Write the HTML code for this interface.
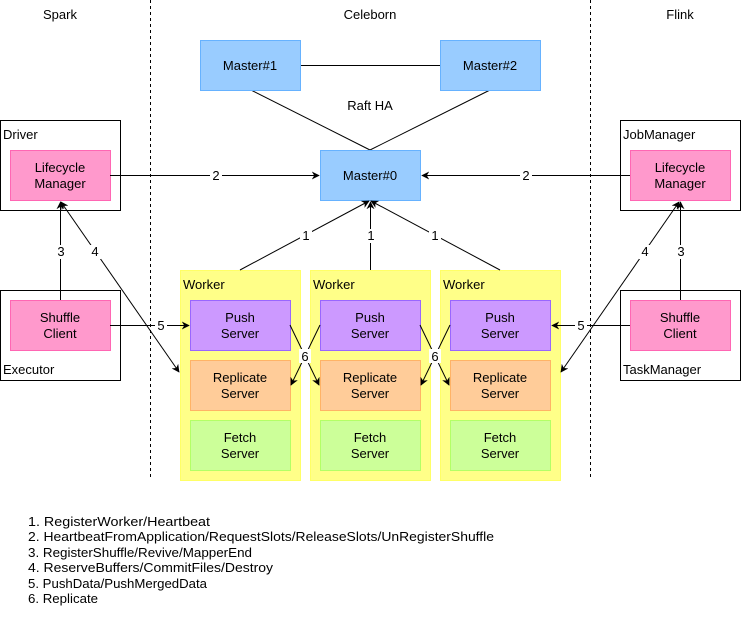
<!DOCTYPE html>
<html><head><meta charset="utf-8"><style>
html,body{margin:0;padding:0;background:#fff;}
svg{display:block;}
text{font-family:"Liberation Sans",sans-serif;font-size:13px;fill:#000;}
</style></head><body>
<svg width="741" height="621" viewBox="0 0 741 621" xmlns="http://www.w3.org/2000/svg">
<defs>
<marker id="a" viewBox="0 0 10 10" refX="9" refY="5" markerWidth="8" markerHeight="8" orient="auto-start-reverse" markerUnits="userSpaceOnUse">
<path d="M0,0 L10,5 L0,10 L3,5 z" fill="#000"/></marker>
</defs>
<line x1="150.5" y1="0" x2="150.5" y2="480" stroke="#000" stroke-dasharray="3,3"/>
<line x1="590.5" y1="0" x2="590.5" y2="480" stroke="#000" stroke-dasharray="3,3"/>
<g text-anchor="middle">
<text x="60" y="19">Spark</text>
<text x="370" y="19">Celeborn</text>
<text x="680" y="19">Flink</text>
</g>
<line x1="300" y1="65.5" x2="440" y2="65.5" stroke="#000"/>
<line x1="251" y1="90" x2="370" y2="150" stroke="#000"/>
<line x1="490" y1="90" x2="370" y2="150" stroke="#000"/>
<rect x="200.5" y="40.5" width="100" height="50" fill="#99CCFF" stroke="#66B2FF"/>
<rect x="440.5" y="40.5" width="100" height="50" fill="#99CCFF" stroke="#66B2FF"/>
<rect x="320.5" y="150.5" width="100" height="50" fill="#99CCFF" stroke="#66B2FF"/>
<g text-anchor="middle">
<text x="250" y="70">Master#1</text>
<text x="490" y="70">Master#2</text>
<text x="370" y="110">Raft HA</text>
<text x="370" y="180">Master#0</text>
</g>
<rect x="0.5" y="120.5" width="120" height="90" fill="#fff" stroke="#000"/>
<rect x="0.5" y="290.5" width="120" height="90" fill="#fff" stroke="#000"/>
<rect x="620.5" y="120.5" width="120" height="90" fill="#fff" stroke="#000"/>
<rect x="620.5" y="290.5" width="120" height="90" fill="#fff" stroke="#000"/>
<text x="3" y="139">Driver</text>
<text x="3" y="374">Executor</text>
<text x="623" y="139">JobManager</text>
<text x="623" y="374">TaskManager</text>
<rect x="10.5" y="150.5" width="100" height="50" fill="#FF99CC" stroke="#FF66B3"/>
<rect x="10.5" y="300.5" width="100" height="50" fill="#FF99CC" stroke="#FF66B3"/>
<rect x="630.5" y="150.5" width="100" height="50" fill="#FF99CC" stroke="#FF66B3"/>
<rect x="630.5" y="300.5" width="100" height="50" fill="#FF99CC" stroke="#FF66B3"/>
<g text-anchor="middle">
<text x="60" y="172">Lifecycle</text><text x="60" y="188">Manager</text>
<text x="60" y="322">Shuffle</text><text x="60" y="338">Client</text>
<text x="680" y="172">Lifecycle</text><text x="680" y="188">Manager</text>
<text x="680" y="322">Shuffle</text><text x="680" y="338">Client</text>
</g>
<g>
<rect x="180.5" y="270.5" width="120" height="210" fill="#FFFF88" stroke="#FFFF66"/>
<rect x="310.5" y="270.5" width="120" height="210" fill="#FFFF88" stroke="#FFFF66"/>
<rect x="440.5" y="270.5" width="120" height="210" fill="#FFFF88" stroke="#FFFF66"/>
<text x="183" y="289">Worker</text><text x="313" y="289">Worker</text><text x="443" y="289">Worker</text>
<rect x="190.5" y="300.5" width="100" height="50" fill="#CC99FF" stroke="#9966FF"/>
<rect x="320.5" y="300.5" width="100" height="50" fill="#CC99FF" stroke="#9966FF"/>
<rect x="450.5" y="300.5" width="100" height="50" fill="#CC99FF" stroke="#9966FF"/>
<rect x="190.5" y="360.5" width="100" height="50" fill="#FFCC99" stroke="#FFB366"/>
<rect x="320.5" y="360.5" width="100" height="50" fill="#FFCC99" stroke="#FFB366"/>
<rect x="450.5" y="360.5" width="100" height="50" fill="#FFCC99" stroke="#FFB366"/>
<rect x="190.5" y="420.5" width="100" height="50" fill="#CCFF99" stroke="#B3FF66"/>
<rect x="320.5" y="420.5" width="100" height="50" fill="#CCFF99" stroke="#B3FF66"/>
<rect x="450.5" y="420.5" width="100" height="50" fill="#CCFF99" stroke="#B3FF66"/>
</g>
<g text-anchor="middle">
<text x="240" y="322">Push</text><text x="240" y="338">Server</text>
<text x="370" y="322">Push</text><text x="370" y="338">Server</text>
<text x="500" y="322">Push</text><text x="500" y="338">Server</text>
<text x="240" y="382">Replicate</text><text x="240" y="398">Server</text>
<text x="370" y="382">Replicate</text><text x="370" y="398">Server</text>
<text x="500" y="382">Replicate</text><text x="500" y="398">Server</text>
<text x="240" y="442">Fetch</text><text x="240" y="458">Server</text>
<text x="370" y="442">Fetch</text><text x="370" y="458">Server</text>
<text x="500" y="442">Fetch</text><text x="500" y="458">Server</text>
</g>
<g stroke="#000" fill="none">
<line x1="110" y1="175.5" x2="319" y2="175.5" marker-end="url(#a)"/>
<line x1="630" y1="175.5" x2="422" y2="175.5" marker-end="url(#a)"/>
<line x1="60.5" y1="300" x2="60.5" y2="202" marker-end="url(#a)"/>
<line x1="680.5" y1="300" x2="680.5" y2="202" marker-end="url(#a)"/>
<line x1="61" y1="202" x2="179" y2="372" marker-start="url(#a)" marker-end="url(#a)"/>
<line x1="679" y1="202" x2="561" y2="372" marker-start="url(#a)" marker-end="url(#a)"/>
<line x1="110" y1="325.5" x2="189" y2="325.5" marker-end="url(#a)"/>
<line x1="630" y1="325.5" x2="552" y2="325.5" marker-end="url(#a)"/>
<line x1="240" y1="270" x2="369" y2="201" marker-end="url(#a)"/>
<line x1="370.5" y1="270" x2="370.5" y2="202" marker-end="url(#a)"/>
<line x1="500" y1="270" x2="371" y2="201" marker-end="url(#a)"/>
<line x1="290" y1="325" x2="319" y2="385" marker-end="url(#a)"/>
<line x1="320" y1="325" x2="291" y2="385" marker-end="url(#a)"/>
<line x1="420" y1="325" x2="449" y2="385" marker-end="url(#a)"/>
<line x1="450" y1="325" x2="421" y2="385" marker-end="url(#a)"/>
</g>
<g text-anchor="middle">
<rect x="210" y="168" width="12" height="14" fill="#fff"/><text x="216" y="180">2</text>
<rect x="520" y="168" width="12" height="14" fill="#fff"/><text x="526" y="180">2</text>
<rect x="54" y="245" width="12" height="14" fill="#fff"/><text x="61" y="256">3</text>
<rect x="674" y="245" width="12" height="14" fill="#fff"/><text x="681" y="256">3</text>
<rect x="89" y="245" width="12" height="14" fill="#fff"/><text x="95" y="256">4</text>
<rect x="639" y="245" width="12" height="14" fill="#fff"/><text x="645" y="256">4</text>
<rect x="155" y="318" width="12" height="14" fill="#fff"/><text x="161" y="330">5</text>
<rect x="575" y="318" width="12" height="14" fill="#fff"/><text x="581" y="330">5</text>
<rect x="300" y="229" width="12" height="14" fill="#fff"/><text x="306" y="240">1</text>
<rect x="365" y="229" width="12" height="14" fill="#fff"/><text x="371" y="240">1</text>
<rect x="429" y="229" width="12" height="14" fill="#fff"/><text x="435" y="240">1</text>
<rect x="299" y="349" width="12" height="14" fill="#fff"/><text x="305" y="361">6</text>
<rect x="429" y="349" width="12" height="14" fill="#fff"/><text x="435" y="361">6</text>
</g>
<g>
<text x="28" y="526" textLength="182" lengthAdjust="spacingAndGlyphs">1. RegisterWorker/Heartbeat</text>
<text x="28" y="541" textLength="466" lengthAdjust="spacingAndGlyphs">2. HeartbeatFromApplication/RequestSlots/ReleaseSlots/UnRegisterShuffle</text>
<text x="28" y="557" textLength="224" lengthAdjust="spacingAndGlyphs">3. RegisterShuffle/Revive/MapperEnd</text>
<text x="28" y="572" textLength="245" lengthAdjust="spacingAndGlyphs">4. ReserveBuffers/CommitFiles/Destroy</text>
<text x="28" y="588" textLength="179" lengthAdjust="spacingAndGlyphs">5. PushData/PushMergedData</text>
<text x="28" y="603" textLength="70" lengthAdjust="spacingAndGlyphs">6. Replicate</text>
</g>
</svg>
</body></html>
